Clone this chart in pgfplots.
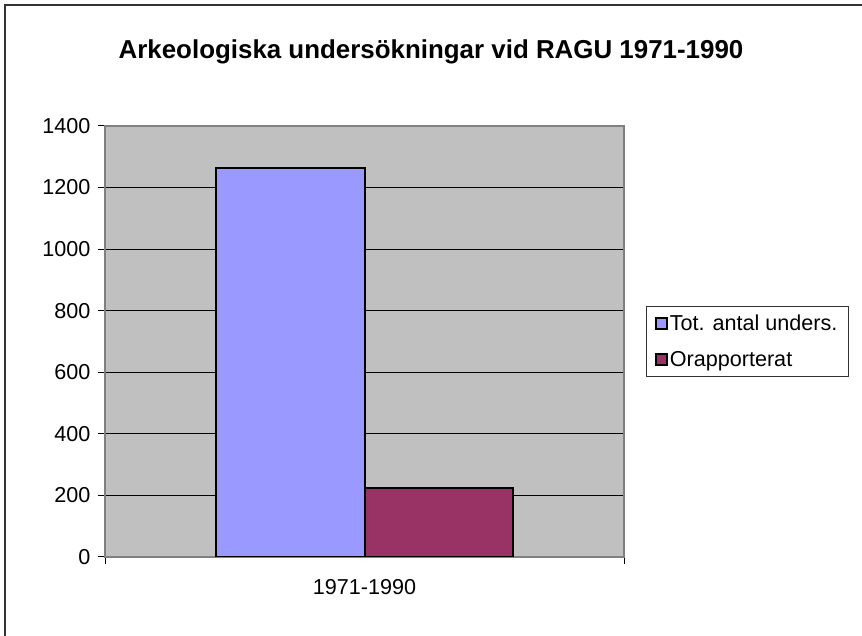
\documentclass[border=0pt]{standalone}
\usepackage{fontspec}
\setmainfont{Liberation Sans}
\usepackage{pgfplots}
\pgfplotsset{compat=1.18}
\definecolor{wall}{HTML}{C0C0C0}
\definecolor{bblue}{HTML}{9999FF}
\definecolor{bmaroon}{HTML}{993366}
\definecolor{edge}{HTML}{808080}
\begin{document}
\begin{tikzpicture}[x=1pt,y=1pt]
\useasboundingbox (0,0) rectangle (862,636);
\draw[line width=2pt, color=black!80] (5,0) -- (5,631) -- (862,631);
\node[font=\fontsize{25.9}{30}\selectfont\bfseries] at (431,584.5) {Arkeologiska undersökningar vid RAGU 1971-1990};
\begin{axis}[
  at={(105pt,79pt)}, anchor=south west,
  scale only axis, width=519pt, height=431pt,
  xmin=-0.5, xmax=0.5, ymin=0, ymax=1400,
  ytick={0,200,...,1400},
  ymajorgrids, grid style={black, line width=1pt},
  axis background/.style={fill=wall},
  axis line style={draw=edge, line width=2pt},
  tick style={black, line width=1pt},
  tick align=outside, major tick length=7pt,
  tick pos=left,
  xtick={-0.5,0.5}, xticklabels={},
  extra x ticks={0}, extra x tick labels={1971-1990},
  extra x tick style={major tick length=0pt, grid=none, xticklabel style={yshift=-19pt}},
  ticklabel style={font=\fontsize{21.6}{26}\selectfont},
  yticklabel style={xshift=-4pt},
  /pgf/number format/assume math mode=true,
  /pgf/number format/1000 sep={},
  legend cell align=left,
  legend image code/.code={\draw[#1, line width=1.5pt] (0pt,-5.5pt) rectangle (11pt,5.5pt);},
  legend style={at={(1.042,0.5)}, anchor=west, draw=black!80, line width=1pt, fill=white,
    font=\fontsize{21.6}{26}\selectfont, row sep=15pt, inner xsep=9pt, inner ysep=7pt},
]
\addplot[ybar, bar width=0.2852, bar shift=0pt, fill=bblue, draw=black, line width=2pt] coordinates {(-0.1426,1263)};
\addplot[ybar, bar width=0.2852, bar shift=0pt, fill=bmaroon, draw=black, line width=2pt] coordinates {(0.1426,224)};
\legend{Tot. antal unders., Orapporterat}
\end{axis}
\end{tikzpicture}
\end{document}
